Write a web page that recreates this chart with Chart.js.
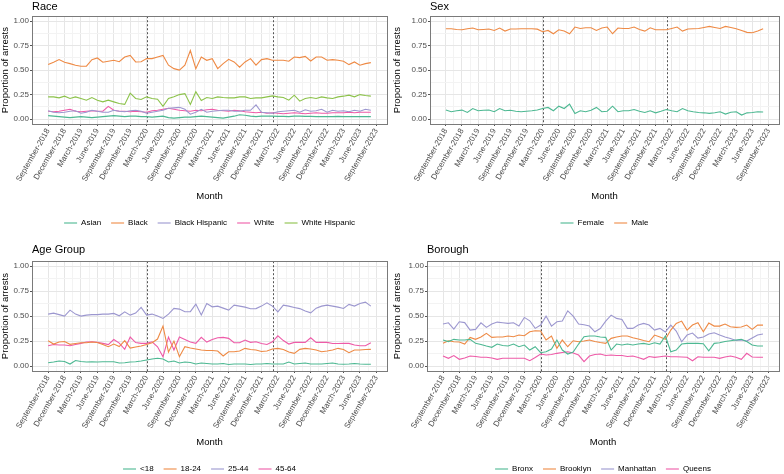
<!DOCTYPE html>
<html>
<head>
<meta charset="utf-8">
<script src="https://cdn.jsdelivr.net/npm/chart.js@4.4.1/dist/chart.umd.min.js"></script>
<style>
  body { margin: 0; background: #fff; width: 784px; height: 474px; position: relative; overflow: hidden; }
  canvas { position: absolute; }
</style>
</head>
<body>
<canvas id="race" width="392" height="237" style="left:0;top:0"></canvas>
<canvas id="sex" width="392" height="237" style="left:392px;top:0"></canvas>
<canvas id="age" width="392" height="240" style="left:0;top:243px"></canvas>
<canvas id="borough" width="392" height="240" style="left:392px;top:243px"></canvas>
<script>
// months run from September-2018 (index 0) to August-2023 (index 59)
const tickLabels = ['September-2018', 'December-2018', 'March-2019', 'June-2019', 'September-2019',
  'December-2019', 'March-2020', 'June-2020', 'September-2020', 'December-2020', 'March-2021',
  'June-2021', 'September-2021', 'December-2021', 'March-2022', 'June-2022', 'September-2022',
  'December-2022', 'March-2023', 'June-2023', 'September-2023'];
const yTickLabels = ['0.00', '0.25', '0.50', '0.75', '1.00'];
const eventMonths = [18, 41.2];

const raceNames = ['Asian', 'Black', 'Black Hispanic', 'White', 'White Hispanic'];
const raceAsian = [.035,.03,.025,.02,.015,.02,.025,.02,.015,.02,.025,.03,.035,.03,.025,.03,.03,.025,.025,.02,.025,.03,.015,.01,.015,.02,.02,.025,.03,.025,.02,.015,.01,.02,.03,.045,.04,.03,.025,.03,.03,.03,.028,.028,.025,.03,.03,.028,.028,.025,.025,.025,.025,.028,.025,.025,.025,.025,.025,.025];
const raceBlack = [.556,.58,.607,.58,.566,.55,.54,.54,.607,.624,.58,.59,.60,.586,.634,.65,.583,.585,.617,.617,.634,.65,.55,.515,.50,.55,.70,.515,.634,.60,.617,.515,.566,.61,.583,.53,.583,.617,.55,.607,.617,.60,.60,.60,.59,.634,.627,.64,.593,.634,.634,.60,.607,.60,.59,.556,.583,.55,.566,.576];
const raceBlackHispanic = [.085,.07,.065,.07,.08,.085,.06,.07,.09,.08,.07,.07,.09,.08,.075,.085,.09,.08,.06,.07,.08,.09,.11,.115,.12,.10,.05,.07,.10,.07,.08,.085,.09,.09,.08,.08,.09,.09,.145,.07,.065,.06,.075,.08,.085,.09,.07,.095,.08,.085,.10,.07,.09,.08,.085,.075,.09,.08,.10,.09];
const raceWhite = [.08,.075,.08,.09,.10,.08,.075,.08,.085,.08,.08,.13,.09,.08,.08,.075,.08,.075,.07,.085,.09,.10,.11,.10,.09,.085,.08,.09,.085,.095,.10,.09,.085,.08,.09,.085,.075,.07,.065,.07,.06,.065,.06,.055,.06,.065,.06,.055,.06,.065,.06,.06,.065,.065,.065,.07,.065,.07,.07,.07];
const raceWhiteHispanic = [.227,.227,.217,.234,.21,.227,.21,.193,.22,.193,.176,.193,.176,.16,.15,.264,.21,.20,.227,.21,.203,.13,.21,.227,.25,.26,.15,.28,.19,.22,.21,.227,.22,.217,.217,.227,.227,.21,.217,.217,.227,.237,.227,.22,.193,.244,.183,.21,.22,.21,.227,.217,.21,.227,.234,.244,.227,.25,.24,.234];

const sexNames = ['Female', 'Male'];
const sexFemale = [.092,.075,.085,.092,.068,.108,.085,.09,.092,.075,.108,.085,.09,.08,.075,.08,.085,.092,.108,.119,.085,.132,.108,.153,.058,.085,.075,.09,.119,.075,.08,.132,.075,.085,.085,.098,.08,.068,.085,.064,.08,.098,.085,.075,.108,.085,.075,.068,.064,.058,.065,.075,.051,.07,.075,.041,.064,.068,.075,.072];
const sexMale = [.922,.922,.915,.912,.922,.93,.912,.915,.919,.905,.929,.898,.919,.92,.922,.922,.922,.918,.892,.905,.871,.912,.90,.871,.939,.925,.932,.932,.905,.93,.939,.871,.929,.925,.925,.939,.915,.898,.932,.912,.912,.912,.925,.939,.898,.92,.922,.925,.935,.946,.935,.925,.946,.935,.922,.905,.885,.881,.90,.922];

const ageNames = ['<18', '18-24', '25-44', '45-64'];
const ageUnder18 = [.033,.04,.05,.045,.02,.055,.045,.04,.043,.04,.043,.043,.043,.03,.033,.04,.043,.05,.06,.07,.077,.07,.04,.05,.03,.04,.035,.02,.03,.025,.02,.02,.025,.015,.02,.02,.02,.015,.02,.02,.025,.02,.02,.02,.04,.02,.025,.03,.02,.02,.02,.025,.03,.02,.017,.02,.025,.02,.017,.017];
const age18to24 = [.253,.22,.24,.245,.217,.225,.233,.233,.24,.235,.215,.193,.22,.195,.255,.18,.19,.20,.215,.233,.27,.40,.14,.25,.093,.193,.18,.17,.16,.155,.155,.15,.10,.143,.143,.15,.177,.165,.16,.145,.15,.17,.177,.165,.14,.127,.167,.177,.17,.16,.143,.15,.16,.177,.165,.133,.16,.16,.165,.167];
const age25to44 = [.52,.53,.515,.50,.56,.52,.50,.51,.515,.515,.52,.52,.527,.503,.543,.51,.53,.587,.51,.52,.50,.477,.52,.577,.57,.543,.545,.62,.51,.627,.593,.60,.58,.56,.61,.60,.59,.573,.575,.60,.633,.60,.543,.61,.60,.587,.575,.55,.533,.58,.60,.61,.60,.59,.577,.617,.60,.627,.64,.60];
const age45to64 = [.203,.215,.21,.21,.203,.215,.227,.24,.243,.237,.227,.215,.265,.23,.167,.29,.235,.227,.227,.243,.193,.093,.29,.16,.29,.265,.24,.227,.287,.24,.265,.283,.287,.277,.233,.233,.26,.237,.243,.225,.215,.243,.303,.255,.22,.237,.237,.237,.283,.237,.237,.237,.225,.225,.228,.227,.21,.203,.203,.233];

const boroughNames = ['Bronx', 'Brooklyn', 'Manhattan', 'Queens'];
const boroBronx = [.26,.245,.267,.26,.26,.267,.227,.215,.20,.187,.22,.205,.20,.22,.193,.21,.16,.193,.133,.143,.17,.26,.16,.12,.14,.22,.293,.30,.30,.29,.287,.16,.22,.21,.22,.21,.22,.227,.215,.233,.22,.30,.143,.16,.22,.227,.227,.227,.223,.153,.227,.233,.245,.253,.26,.267,.245,.21,.20,.20];
const boroBrooklyn = [.227,.253,.243,.24,.22,.287,.267,.29,.327,.287,.29,.29,.30,.293,.31,.303,.343,.353,.35,.26,.30,.177,.26,.193,.253,.243,.25,.26,.245,.235,.227,.277,.29,.30,.30,.283,.27,.255,.243,.31,.29,.267,.36,.427,.45,.36,.41,.433,.343,.43,.40,.40,.42,.393,.387,.39,.41,.367,.41,.41];
const boroManhattan = [.42,.433,.37,.443,.435,.36,.367,.433,.387,.42,.44,.433,.427,.433,.40,.487,.453,.377,.41,.50,.40,.443,.45,.553,.50,.42,.413,.40,.343,.375,.45,.51,.477,.467,.377,.377,.41,.427,.41,.36,.377,.34,.41,.35,.243,.31,.33,.28,.29,.32,.333,.31,.29,.275,.255,.26,.25,.28,.31,.32];
const boroQueens = [.10,.077,.105,.067,.08,.10,.095,.087,.087,.08,.067,.077,.077,.077,.077,.077,.053,.085,.12,.11,.115,.127,.135,.143,.13,.11,.043,.10,.115,.12,.105,.11,.105,.105,.095,.10,.085,.067,.095,.087,.093,.10,.093,.093,.09,.087,.053,.093,.087,.087,.087,.077,.09,.10,.087,.067,.127,.09,.087,.087];

const palette = ['#4db892', '#ee8a45', '#9c97cf', '#ee5ba8', '#8cc24a'];

Chart.defaults.font.family = '"Liberation Sans", Arial, sans-serif';
Chart.defaults.devicePixelRatio = 1;

const isMajorX = v => Math.abs(v / 3 - Math.round(v / 3)) < 1e-6;
const isMajorY = v => Math.abs(v / 0.25 - Math.round(v / 0.25)) < 1e-6;

const panelDecor = {
  id: 'panelDecor',
  beforeDatasetsDraw(chart) {
    const { ctx, chartArea: a, scales: { x } } = chart;
    ctx.save();
    ctx.strokeStyle = '#555';
    ctx.lineWidth = 1;
    ctx.setLineDash([2, 2]);
    eventMonths.forEach(m => {
      const px = Math.round(x.getPixelForValue(m)) + 0.5;
      ctx.beginPath();
      ctx.moveTo(px, a.top);
      ctx.lineTo(px, a.bottom);
      ctx.stroke();
    });
    ctx.restore();
  },
  afterDraw(chart) {
    const { ctx, chartArea: a } = chart;
    ctx.save();
    ctx.strokeStyle = '#7a7a7a';
    ctx.lineWidth = 1;
    ctx.strokeRect(Math.round(a.left) + 0.5, Math.round(a.top) + 0.5, Math.round(a.width), Math.round(a.height));
    ctx.restore();
  }
};

function makePanel(id, title, names, series, geo) {
  const datasets = series.map((vals, k) => ({
    label: names[k],
    data: vals.map((v, i) => ({ x: i, y: v })),
    borderColor: palette[k],
    backgroundColor: palette[k],
    borderWidth: 1.1,
    pointRadius: 0,
    tension: 0
  }));

  new Chart(document.getElementById(id), {
    type: 'line',
    data: { datasets },
    plugins: [panelDecor],
    options: {
      responsive: false,
      animation: false,
      layout: { padding: { left: 0, right: 5, top: 0, bottom: 0 } },
      plugins: {
        title: {
          display: true, text: title, align: 'start', fullSize: false,
          color: '#000', font: { size: 11, weight: 'normal' },
          padding: geo.titlePad
        },
        legend: {
          position: 'bottom', fullSize: false,
          labels: {
            color: '#000', font: { size: 8 }, padding: 10,
            usePointStyle: true, pointStyle: 'line', pointStyleWidth: 13
          }
        },
        tooltip: { enabled: false }
      },
      scales: {
        x: {
          type: 'linear', min: -2.95, max: 61.95,
          afterBuildTicks: axis => {
            axis.ticks = [];
            for (let k = 0; k <= 40; k++) axis.ticks.push({ value: k * 1.5 });
          },
          afterFit: scale => { scale.height = geo.xHeight; },
          grid: {
            color: c => isMajorX(c.tick.value) ? '#e6e6e6' : '#f3f3f3',
            tickColor: c => isMajorX(c.tick.value) ? '#555' : 'rgba(0,0,0,0)',
            tickLength: 2
          },
          border: { display: false },
          ticks: {
            autoSkip: false, minRotation: 60, maxRotation: 60, padding: 1,
            color: '#4d4d4d', font: { size: 8 },
            callback: v => isMajorX(v) ? tickLabels[Math.round(v / 3)] : ''
          },
          title: { display: true, text: 'Month', color: '#000', font: { size: 9.5 }, padding: { top: 0, bottom: 7 } }
        },
        y: {
          type: 'linear', min: -0.05, max: 1.05,
          afterBuildTicks: axis => {
            axis.ticks = [];
            for (let k = 0; k <= 8; k++) axis.ticks.push({ value: k * 0.125 });
          },
          afterFit: scale => { scale.width = geo.yWidth; },
          grid: {
            color: c => isMajorY(c.tick.value) ? '#e6e6e6' : '#f3f3f3',
            tickColor: c => isMajorY(c.tick.value) ? '#555' : 'rgba(0,0,0,0)',
            tickLength: 2
          },
          border: { display: false },
          ticks: {
            autoSkip: false, padding: 1, color: '#4d4d4d', font: { size: 8 },
            callback: v => isMajorY(v) ? yTickLabels[Math.round(v / 0.25)] : ''
          },
          title: { display: true, text: 'Proportion of arrests', color: '#000', font: { size: 9.5 }, padding: { top: 0, bottom: 0 } }
        }
      }
    }
  });
}

const topGeo = yWidth => ({ yWidth, xHeight: 85, titlePad: { top: 0, bottom: 3 } });
const bottomGeo = yWidth => ({ yWidth, xHeight: 84, titlePad: { top: 0, bottom: 5 } });

makePanel('race', 'Race', raceNames,
  [raceAsian, raceBlack, raceBlackHispanic, raceWhite, raceWhiteHispanic], topGeo(32));
makePanel('sex', 'Sex', sexNames, [sexFemale, sexMale], topGeo(38));
makePanel('age', 'Age Group', ageNames, [ageUnder18, age18to24, age25to44, age45to64], bottomGeo(32));
makePanel('borough', 'Borough', boroughNames,
  [boroBronx, boroBrooklyn, boroManhattan, boroQueens], bottomGeo(35));
</script>
</body>
</html>
